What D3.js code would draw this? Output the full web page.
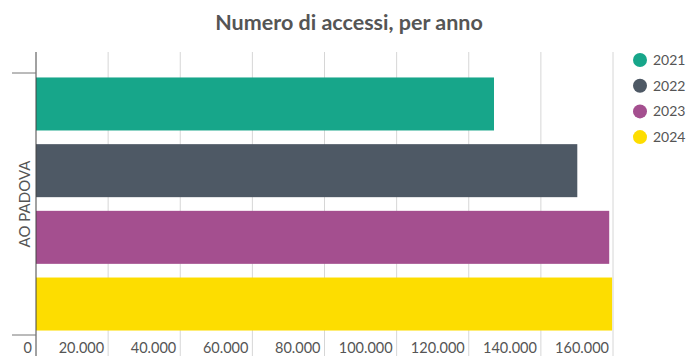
<!DOCTYPE html>
<html>
<head>
<meta charset="utf-8">
<script src="https://cdn.jsdelivr.net/npm/d3@7"></script>
<style>
  body { margin: 0; background: #fff; }
  text { font-family: Lato, "Open Sans", sans-serif; fill: #555; }
</style>
</head>
<body>
<div id="chart"></div>
<script>
  "use strict";
  var width = 687, height = 356;

  // data
  var categories = ["AO PADOVA"];
  var years = ["2021", "2022", "2023", "2024"];
  var accessi = [127000, 150100, 158950, 159750];
  var colors = ["#17a68a", "#4e5965", "#a44f8f", "#fddd00"];
  var xTicks = [0, 20000, 40000, 60000, 80000, 100000, 120000, 140000, 160000];

  var plot = {left: 36, right: 613, top: 52, bandTop: 73, bandBottom: 335};

  var svg = d3.select("#chart").append("svg")
    .attr("width", width)
    .attr("height", height);

  var x = d3.scaleLinear().domain([0, 160000]).range([plot.left, plot.right]);
  var yCat = d3.scaleBand().domain(categories).range([plot.bandTop, plot.bandBottom]);
  var yYear = d3.scaleBand().domain(years).range([0, yCat.bandwidth()])
    .paddingInner(0.205).paddingOuter(0.067);

  var fmt = function(d) { return d3.format(",")(d).replace(/,/g, "."); };

  // title
  svg.append("text")
    .attr("x", 349).attr("y", 30)
    .attr("text-anchor", "middle")
    .style("font-size", "21.5px")
    .style("font-weight", "bold")
    .text("Numero di accessi, per anno");

  // grid lines
  svg.append("g").selectAll("line")
    .data(xTicks.slice(1))
    .enter().append("line")
    .attr("x1", function(d) { return x(d); })
    .attr("x2", function(d) { return x(d); })
    .attr("y1", plot.top).attr("y2", height)
    .attr("stroke", "#d6d6d6").attr("stroke-width", 1);

  // bars
  var rows = years.map(function(y, i) { return {year: y, value: accessi[i], color: colors[i]}; });
  svg.append("g").selectAll("rect")
    .data(rows)
    .enter().append("rect")
    .attr("x", x(0))
    .attr("y", function(d) { return yCat(categories[0]) + yYear(d.year); })
    .attr("width", function(d) { return x(d.value) - x(0); })
    .attr("height", yYear.bandwidth())
    .attr("fill", function(d) { return d.color; });

  // y axis line + category ticks
  svg.append("line")
    .attr("x1", plot.left).attr("x2", plot.left)
    .attr("y1", plot.top).attr("y2", height)
    .attr("stroke", "#444");
  svg.append("g").selectAll("line")
    .data([plot.bandTop, plot.bandBottom])
    .enter().append("line")
    .attr("x1", 12).attr("x2", plot.left)
    .attr("y1", function(d) { return d; }).attr("y2", function(d) { return d; })
    .attr("stroke", "#777");

  svg.append("text")
    .attr("transform", "translate(30," + (yCat(categories[0]) + yCat.bandwidth() / 2) + ") rotate(-90)")
    .attr("text-anchor", "middle")
    .style("font-size", "15px")
    .text(categories[0]);

  // x tick labels
  svg.append("g").selectAll("text")
    .data(xTicks)
    .enter().append("text")
    .attr("x", function(d) { return x(d) - 4; })
    .attr("y", 353)
    .attr("text-anchor", "end")
    .style("font-size", "14.5px")
    .text(fmt);

  // legend
  var leg = svg.append("g").selectAll("g")
    .data(rows)
    .enter().append("g")
    .attr("transform", function(d, i) { return "translate(640," + (60 + i * 25.7) + ")"; });
  leg.append("circle").attr("r", 7).attr("fill", function(d) { return d.color; });
  leg.append("text")
    .attr("x", 13).attr("y", 5)
    .style("font-size", "14px")
    .text(function(d) { return d.year; });
</script>
</body>
</html>
